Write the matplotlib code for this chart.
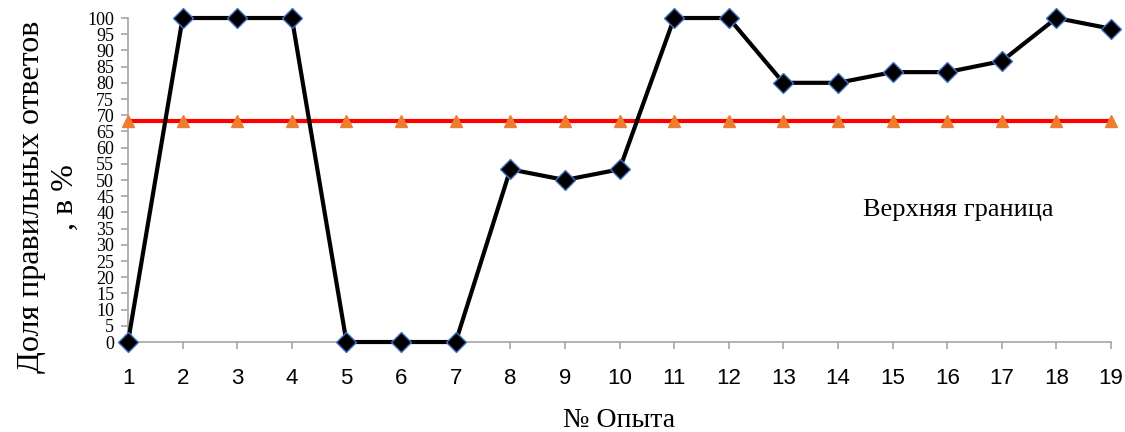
import matplotlib
matplotlib.use('Agg')
import matplotlib.pyplot as plt

# Данные
opyty = list(range(1, 20))
dolya = [0, 100, 100, 100, 0, 0, 0, 53.3, 50, 53.3, 100, 100, 80, 80, 83.3, 83.3, 86.7, 100, 96.7]
granica = [68.3] * 19
yticks = list(range(0, 101, 5))

fig = plt.figure(figsize=(11.25, 4.32), dpi=100)
ax = fig.add_axes([0.1138, 0.2083, 0.8738, 0.75])

ax.plot(opyty, granica, color='#ff0000', lw=3, marker='^', ms=9,
        mfc='#ed7d31', mec='#ed7d31', clip_on=False, zorder=3)
ax.plot(opyty, dolya, color='black', lw=3, marker='D', ms=10.5,
        mfc='black', mec='#4472c4', mew=1, clip_on=False, zorder=4)

ax.set_xlim(1, 19)
ax.set_ylim(0, 100)
ax.set_xticks(opyty)
ax.set_xticklabels([str(i) for i in opyty], fontsize=16, family='Liberation Sans')
ax.set_yticks(yticks)
ax.set_yticklabels([str(v) for v in yticks], fontsize=13, family='Liberation Serif')

for s in ['top', 'right']:
    ax.spines[s].set_visible(False)
for s in ['left', 'bottom']:
    ax.spines[s].set_color('#a6a6a6')
    ax.spines[s].set_linewidth(1.2)
ax.tick_params(axis='both', colors='#a6a6a6', labelcolor='black', length=5, width=1.2)
ax.tick_params(axis='x', pad=14)
ax.tick_params(axis='y', pad=5)

ax.set_xlabel('№ Опыта', fontsize=20, family='Liberation Serif', va='baseline')
ax.xaxis.set_label_coords(0.5, -0.262)
ax.set_ylabel('Доля правильных ответов\n, в %', fontsize=23, family='Liberation Serif',
              linespacing=1.2)
ax.yaxis.set_label_coords(-0.049, 0.447)

ax.text(16.2, 39.0, 'Верхняя граница', fontsize=19, family='Liberation Serif',
        ha='center', va='baseline')

fig.savefig('out.png', dpi=100)
